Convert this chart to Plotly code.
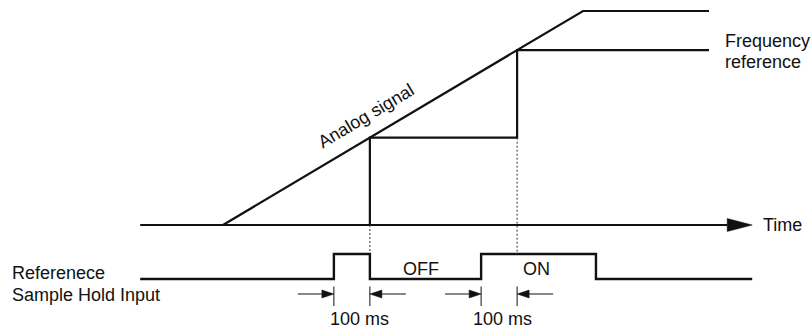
import plotly.graph_objects as go

# ---------------- data ----------------
# time in ms, analog signal / frequency reference in % of max, sample-hold input 0/1
time_axis_t = [-230, 1470]
analog_t = [0, 1000, 1350]
analog_v = [0, 100, 100]
freq_t = [408, 408, 817, 817, 1350]
freq_v = [0, 40.8, 40.8, 81.7, 81.7]
sample_t = [408, 817]          # falling edge of hold input -> sample
prev_level_v = [0, 40.8]       # level before each sample
input_t = [-230, 308, 308, 408, 408, 717, 717, 1036, 1036, 1470]
input_s = [0, 0, 1, 1, 0, 0, 1, 1, 0, 0]
dim_start_t = [308, 717]
hold_ms = 100
dim_labels = ["100 ms", "100 ms"]
dim_label_t = [378, 776]
state_labels = ["OFF", "ON"]
state_label_t = [550, 872]

# ---------------- layout constants (pixel mapping) ----------------
W, H = 812, 329
X0_PX, PX_PER_MS = 223, 0.36
V0_PX, PX_PER_PCT = 225, 2.14
S0_PX, PX_PER_S = 279, 25

def v_to_s(v):
    px = V0_PX - v * PX_PER_PCT
    return (S0_PX - px) / PX_PER_S

x_range = [-X0_PX / PX_PER_MS, (W - X0_PX) / PX_PER_MS]
y_range = [(V0_PX - H) / PX_PER_PCT, V0_PX / PX_PER_PCT]
y2_range = [(S0_PX - H) / PX_PER_S, S0_PX / PX_PER_S]

BLACK = "#111111"
FONT = dict(family="Liberation Sans, Arial, sans-serif", size=18, color=BLACK)

fig = go.Figure()

def line(x, y, yaxis="y", width=2, dash=None, color=BLACK):
    fig.add_trace(go.Scatter(x=x, y=y, mode="lines", yaxis=yaxis, hoverinfo="skip",
                             line=dict(color=color, width=width, dash=dash)))

def tri(tip_t, tip_y, direction, length_px, half_px, yaxis, px_per_y):
    dt = length_px / PX_PER_MS * direction
    dy = half_px / px_per_y
    fig.add_trace(go.Scatter(x=[tip_t, tip_t - dt, tip_t - dt, tip_t],
                             y=[tip_y, tip_y + dy, tip_y - dy, tip_y],
                             mode="lines", fill="toself", fillcolor=BLACK, yaxis=yaxis,
                             hoverinfo="skip", line=dict(color=BLACK, width=0.5)))

# time axis with arrow
head_len = 25
line([time_axis_t[0], time_axis_t[1] - head_len / PX_PER_MS], [0, 0], width=2.2)
tri(time_axis_t[1], 0, 1, head_len, 6.5, "y", PX_PER_PCT)

# analog signal and frequency reference
line(analog_t, analog_v, width=2.2)
line(freq_t, freq_v, width=2.2)

# dotted guide lines
for t, pv in zip(sample_t, prev_level_v):
    line([t, t], [v_to_s(pv), 1], yaxis="y2", width=1, dash="2px,2px", color="#333333")

# sample hold input
line(input_t, input_s, yaxis="y2", width=2.4)

# dimension marks
dim_y = -0.6
for t0 in dim_start_t:
    t1 = t0 + hold_ms
    for t in (t0, t1):
        line([t, t], [-0.3, -1.08], yaxis="y2", width=1)
    line([t0 - hold_ms, t0 - 12 / PX_PER_MS], [dim_y, dim_y], yaxis="y2", width=1)
    tri(t0, dim_y, 1, 12, 4, "y2", PX_PER_S)
    line([t1 + hold_ms, t1 + 12 / PX_PER_MS], [dim_y, dim_y], yaxis="y2", width=1)
    tri(t1, dim_y, -1, 12, 4, "y2", PX_PER_S)

ann = []
for lab, t in zip(dim_labels, dim_label_t):
    ann.append(dict(x=t, y=-1.6, xref="x", yref="y2", text=lab, showarrow=False,
                    xanchor="center", yanchor="middle", font=FONT))
for lab, t in zip(state_labels, state_label_t):
    ann.append(dict(x=t, y=0.4, xref="x", yref="y2", text=lab, showarrow=False,
                    xanchor="center", yanchor="middle", font=FONT))

ann.append(dict(x=10 / W, y=0.25, xref="paper", yref="y2", text="Referenece",
                showarrow=False, xanchor="left", yanchor="middle", font=FONT))
ann.append(dict(x=10 / W, y=-0.62, xref="paper", yref="y2", text="Sample Hold Input",
                showarrow=False, xanchor="left", yanchor="middle", font=FONT))
ann.append(dict(x=1494, y=0, xref="x", yref="y", text="Time", showarrow=False,
                xanchor="left", yanchor="middle", font=FONT))
ann.append(dict(x=1390, y=(V0_PX - 41) / PX_PER_PCT, xref="x", yref="y", text="Frequency",
                showarrow=False, xanchor="left", yanchor="middle", font=FONT))
ann.append(dict(x=1390, y=(V0_PX - 62) / PX_PER_PCT, xref="x", yref="y", text="reference",
                showarrow=False, xanchor="left", yanchor="middle", font=FONT))
ann.append(dict(x=(366 - X0_PX) / PX_PER_MS, y=(V0_PX - 116) / PX_PER_PCT, xref="x", yref="y",
                text="Analog signal", showarrow=False, textangle=-30.7,
                xanchor="center", yanchor="middle", font=FONT))

fig.update_layout(
    width=W, height=H, margin=dict(l=0, r=0, t=0, b=0),
    paper_bgcolor="white", plot_bgcolor="white", showlegend=False,
    xaxis=dict(range=x_range, visible=False, fixedrange=True),
    yaxis=dict(range=y_range, visible=False, fixedrange=True),
    yaxis2=dict(range=y2_range, visible=False, overlaying="y", anchor="x", fixedrange=True),
    annotations=ann,
)

fig.write_html("out.html", config={"displayModeBar": False},
               post_script="document.body.style.margin='0';document.body.style.overflow='hidden';")
